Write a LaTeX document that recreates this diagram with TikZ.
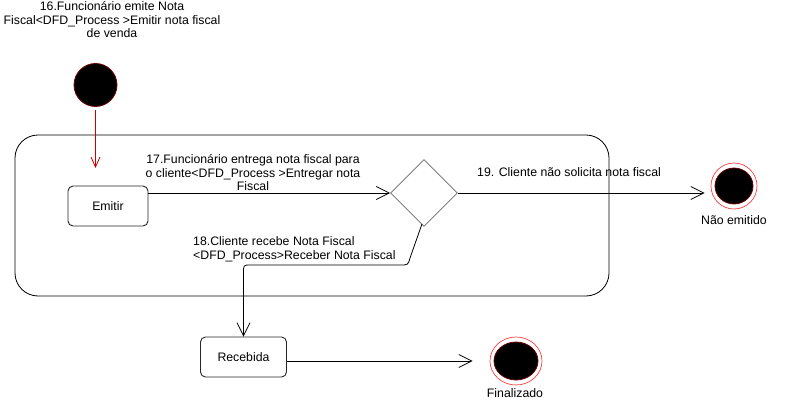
\documentclass[tikz,border=0pt]{standalone}
\usepackage{fontspec}
\setmainfont{Liberation Sans}
\usetikzlibrary{arrows.meta,shapes.geometric}
\tikzset{
  lbl/.style={font=\fontsize{12.3}{13.5}\selectfont, inner sep=0pt, align=center},
  statebox/.style={draw=black!85, line width=0.9pt, rounded corners=5pt, minimum width=80pt, minimum height=40pt, inner sep=0pt, font=\fontsize{12.3}{13.5}\selectfont},
  decision/.style={diamond, draw=black!50, line width=0.9pt, minimum width=67pt, minimum height=67pt, inner sep=0pt, aspect=1},
  flow/.style={draw=black, line width=0.8pt, -{Straight Barb[length=13pt,width=13pt,line width=0.8pt]}},
  redflow/.style={draw=red!80!black, line width=0.8pt, -{Straight Barb[length=10pt,width=9pt,line width=0.8pt]}},
  initst/.style={circle, fill=black, draw=red!45!black, line width=0.8pt, minimum size=43pt, inner sep=0pt},
  endring/.style={ellipse, draw=red!75, line width=0.7pt, inner sep=0pt},
  endcore/.style={ellipse, fill=black, draw=red!40!black, line width=0.8pt, inner sep=0pt}
}
\begin{document}
\begin{tikzpicture}[x=1pt,y=-1pt]
\useasboundingbox[fill=white] (0,0) rectangle (785,401);
% composite state
\draw[line width=0.8pt, rounded corners=23pt] (15,135) rectangle (609,296);
% top label and initial state
\node[lbl] (t16) at (112,20) {16.Funcionário emite Nota\\Fiscal<DFD\_Process >Emitir nota fiscal\\de venda};
\node[initst] (init) at (95.5,85) {};
\coordinate (redend) at (95.5,168);
\draw[redflow, shorten <=3.5pt] (init.south) -- (redend);
% states
\node[statebox] (emitir) at (108,206) {Emitir};
\node[decision] (dia) at (424,193) {};
\node[statebox, minimum width=86pt] (receb) at (243.5,357) {Recebida};
% end states
\node[endring, minimum width=46pt, minimum height=46pt] (nao) at (734,186) {};
\node[endcore, minimum width=38pt, minimum height=36pt] (naoin) at (734,186) {};
\node[lbl] (naolbl) at (734,220) {Não emitido};
\node[endring, minimum width=52pt, minimum height=48pt] (fin) at (516,361) {};
\node[endcore, minimum width=44pt, minimum height=38pt] (finin) at (516,361) {};
\node[lbl] (finlbl) at (515,393) {Finalizado};
% transitions
\draw[flow] (emitir.east |- dia.west) -- (dia.west);
\node[lbl] (l17) at (253,173) {17.Funcionário entrega nota fiscal para\\o cliente<DFD\_Process >Entregar nota\\Fiscal};
\draw[flow, shorten >=6pt] (dia.east) -- (dia.east -| nao.west);
\node[lbl, anchor=west] (l19) at (477,172) {19. Cliente não solicita nota fiscal};
\draw[flow] ([xshift=-2pt,yshift=3pt]dia.south) -- (410,258) .. controls (408,265) .. (400,265) -- (250,265) .. controls (243.5,265) .. (243.5,273) -- (receb.north);
\node[lbl, anchor=west, align=left] (l18) at (193,249.5) {18.Cliente recebe Nota Fiscal\\<DFD\_Process>Receber Nota Fiscal};
\draw[flow, shorten >=17pt] (receb.east |- fin.west) -- (fin.west);
\end{tikzpicture}
\end{document}
